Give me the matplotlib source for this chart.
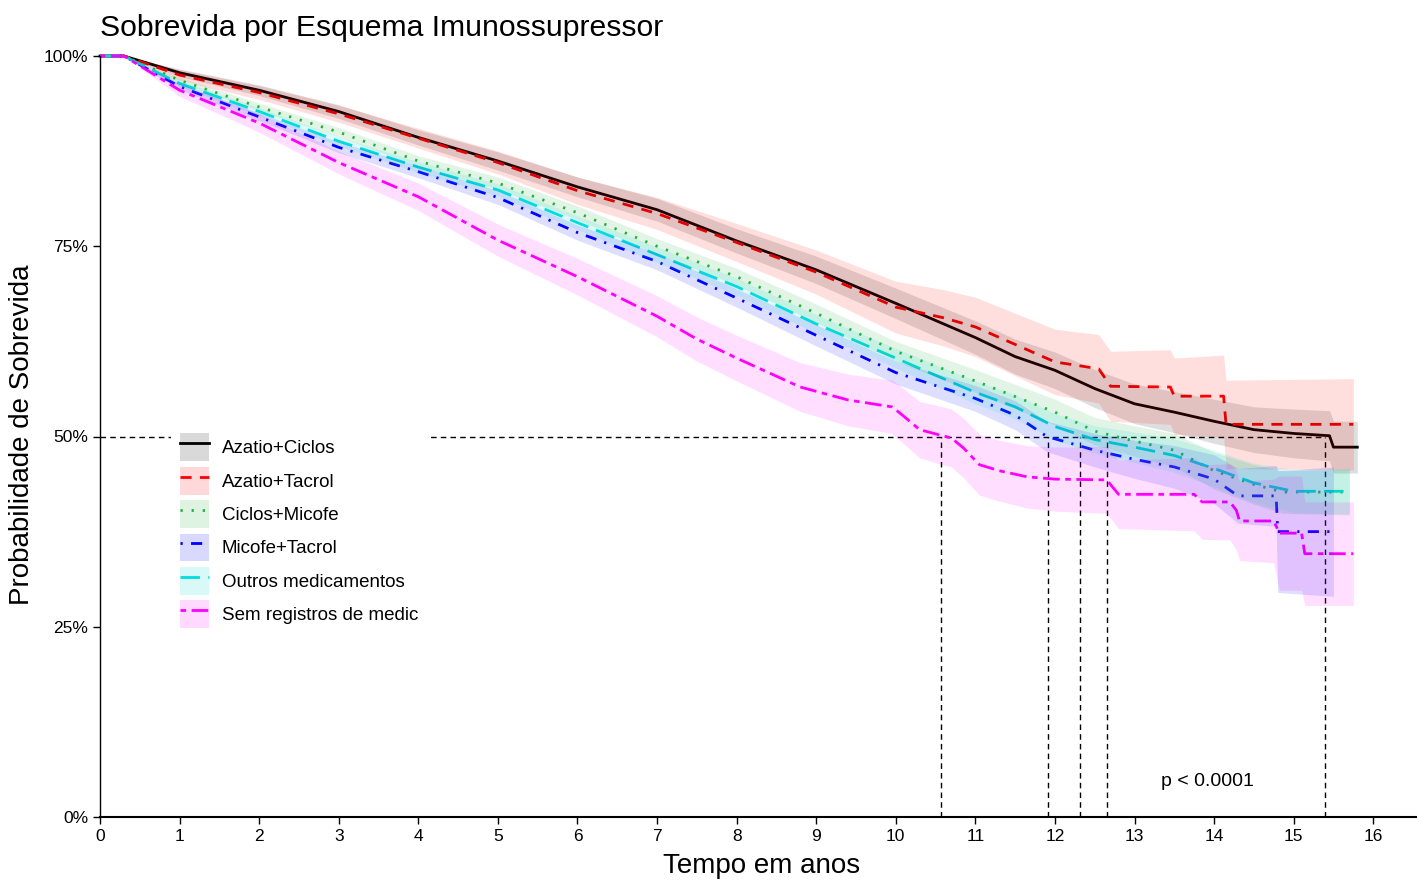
import matplotlib
matplotlib.use("Agg")
import matplotlib.pyplot as plt
from matplotlib.patches import Patch
from matplotlib.lines import Line2D

plt.rcParams["font.family"] = ["Liberation Sans", "DejaVu Sans"]

# Kaplan-Meier estimates (time in years, survival in %)
groups = ["Azatio+Ciclos", "Azatio+Tacrol", "Ciclos+Micofe",
          "Micofe+Tacrol", "Outros medicamentos", "Sem registros de medic"]

t_black = [0, 0.3, 1, 2, 3, 4, 5, 6, 7, 8, 9, 10, 11, 11.5, 12, 12.5, 13, 13.5, 14, 14.5, 15, 15.45, 15.5, 15.8]
s_black = [100, 100, 97.8, 95.5, 92.7, 89.3, 86.2, 82.8, 79.8, 75.7, 71.9, 67.5, 63.0, 60.5, 58.7, 56.3, 54.3, 53.2, 52.0, 50.9, 50.4, 50.1, 48.6, 48.6]
ci_black = [0, 0, 0.5, 0.7, 0.9, 1.0, 1.2, 1.3, 1.5, 1.6, 1.8, 2.0, 2.2, 2.3, 2.4, 2.5, 2.6, 2.7, 2.9, 3.0, 3.2, 3.3, 3.4, 3.4]

t_red = [0, 0.3, 1, 2, 3, 4, 5, 6, 7, 8, 9, 10, 10.6, 11, 11.5, 12, 12.55, 12.7, 13.45, 13.5, 14.12, 14.15, 15.75]
s_red = [100, 100, 97.5, 95.2, 92.4, 89.2, 86.0, 82.3, 79.3, 75.5, 71.6, 67.0, 65.6, 64.4, 62.1, 59.8, 58.9, 56.6, 56.5, 55.3, 55.3, 51.6, 51.6]
ci_red = [0, 0, 0.7, 0.9, 1.1, 1.3, 1.5, 1.8, 2.1, 2.5, 2.9, 3.4, 3.7, 3.9, 4.1, 4.3, 4.5, 4.6, 4.9, 5.0, 5.4, 5.8, 6.0]

t_green = [0, 0.3, 1, 2, 3, 4, 5, 6, 7, 8, 9, 10, 11, 12, 12.5, 13, 13.5, 14, 14.5, 14.86, 15.7]
s_green = [100, 100, 96.8, 93.3, 90.0, 86.2, 83.3, 79.4, 75.0, 71.0, 66.2, 61.2, 57.3, 53.2, 50.7, 49.4, 48.2, 45.5, 43.7, 42.7, 42.7]
ci_green = [0, 0, 0.4, 0.5, 0.6, 0.7, 0.8, 0.9, 1.0, 1.1, 1.2, 1.3, 1.5, 1.7, 1.8, 2.0, 2.2, 2.4, 2.6, 2.8, 3.0]

t_blue = [0, 0.3, 1, 2, 3, 4, 5, 6, 7, 8, 9, 10, 11, 11.5, 11.9, 12.5, 13, 13.5, 14, 14.3, 14.78, 14.8, 15.5]
s_blue = [100, 100, 96.0, 92.0, 88.0, 84.8, 81.4, 76.8, 73.0, 68.2, 63.3, 58.4, 55.0, 52.8, 50.0, 48.2, 47.0, 46.0, 44.4, 42.2, 42.2, 37.5, 37.5]
ci_blue = [0, 0, 0.4, 0.5, 0.7, 0.8, 0.9, 1.0, 1.1, 1.2, 1.4, 1.5, 1.7, 1.9, 2.0, 2.2, 2.5, 2.8, 3.2, 3.6, 4.0, 8.0, 8.5]

t_cyan = [0, 0.3, 1, 2, 3, 4, 5, 6, 7, 8, 9, 10, 11, 11.5, 12, 12.5, 13, 13.5, 14, 14.5, 15, 15.7]
s_cyan = [100, 100, 96.4, 92.7, 88.8, 85.4, 82.4, 78.1, 73.9, 69.7, 64.8, 60.3, 55.8, 53.9, 51.3, 49.6, 48.6, 47.5, 45.8, 43.9, 42.8, 42.8]
ci_cyan = [0, 0, 0.4, 0.5, 0.6, 0.7, 0.8, 0.9, 1.0, 1.1, 1.2, 1.3, 1.5, 1.6, 1.7, 1.8, 2.0, 2.2, 2.4, 2.6, 2.8, 3.0]

t_mag = [0, 0.3, 1, 2, 3, 4, 5, 6, 7, 7.5, 8, 8.8, 9.4, 9.95, 10.05, 10.3, 10.55, 10.7, 10.85, 11.05,
         11.3, 11.65, 12.0, 12.65, 12.8, 13.75, 13.85, 14.2, 14.28, 14.32, 14.75, 14.82, 15.1, 15.14, 15.75]
s_mag = [100, 100, 95.5, 91.2, 86.0, 81.5, 75.8, 71.0, 65.8, 62.8, 60.3, 56.5, 54.8, 53.9, 53.1, 50.9, 50.2, 49.8, 48.5, 46.3,
         45.5, 44.7, 44.4, 44.3, 42.4, 42.4, 41.4, 41.4, 40.3, 38.9, 38.9, 37.3, 37.3, 34.6, 34.6]
ci_mag = [0, 0, 0.8, 1.2, 1.5, 1.8, 2.1, 2.4, 2.7, 2.9, 3.0, 3.2, 3.4, 3.5, 3.6, 3.7, 3.8, 3.8, 3.9, 4.0,
          4.0, 4.1, 4.2, 4.4, 4.5, 4.8, 4.9, 5.0, 5.2, 5.2, 5.5, 7.5, 7.5, 6.8, 6.8]

# median survival times (vertical reference lines)
medians = [10.57, 11.91, 12.32, 12.66, 15.40]

series = [(t_black, s_black, ci_black), (t_red, s_red, ci_red), (t_green, s_green, ci_green),
          (t_blue, s_blue, ci_blue), (t_cyan, s_cyan, ci_cyan), (t_mag, s_mag, ci_mag)]
colors = ["black", "#FF0000", "#22B03A", "#0000FF", "#00DDDD", "#FF00FF"]
styles = ["-", (0, (4, 3)), (0, (0.8, 3.2)), (0, (0.8, 3, 4, 3)), (0, (7, 3)), (0, (2, 2, 6, 2))]

fig = plt.figure(figsize=(14.17, 8.81), dpi=100)
ax = fig.add_axes([100 / 1417, 1 - 817 / 881, 1 - 100 / 1417, (817 - 56) / 881])

for (t, s, ci), c, ls in zip(series, colors, styles):
    ax.plot(t, s, color=c, linestyle=ls, lw=2, zorder=2, clip_on=False)
    lo = [v - d for v, d in zip(s, ci)]
    hi = [v + d for v, d in zip(s, ci)]
    ax.fill_between(t, lo, hi, color=c, alpha=0.13, lw=0, zorder=3)

# median reference lines
ax.plot([0, max(medians)], [50, 50], color="black", ls=(0, (4, 3)), lw=1, zorder=1)
for m in medians:
    ax.plot([m, m], [0, 50], color="black", ls=(0, (4, 3)), lw=1, zorder=1)

ax.set_xlim(0, 16.55)
ax.set_ylim(0, 100)
ax.set_xticks(range(0, 17))
ax.set_yticks([0, 25, 50, 75, 100])
ax.set_yticklabels(["0%", "25%", "50%", "75%", "100%"])
ax.tick_params(labelsize=12.5, length=5, width=1, colors="black")
ax.spines["top"].set_visible(False)
ax.spines["right"].set_visible(False)
ax.spines["left"].set_linewidth(1)
ax.spines["bottom"].set_linewidth(1.5)

ax.text(13.92, 4.7, "p < 0.0001", fontsize=14, ha="center", va="center")

handles = []
for c, ls in zip(colors, styles):
    handles.append((Patch(facecolor=c, alpha=0.15, lw=0), Line2D([], [], color=c, ls=ls, lw=2)))
leg = ax.legend(handles, groups, loc="upper left", bbox_to_anchor=(71 / 1317, (817 - 424) / 761),
                borderaxespad=0, frameon=True, fontsize=13.5, handlelength=1.5, handleheight=1.9,
                labelspacing=0.3, handletextpad=0.7, borderpad=0.5)
leg.get_frame().set_facecolor("white")
leg.get_frame().set_edgecolor("none")
leg.get_frame().set_alpha(1)
leg.set_zorder(5)

fig.text(100 / 1417, 1 - 28 / 881, "Sobrevida por Esquema Imunossupressor", fontsize=21.7, ha="left", va="center")
fig.text(22 / 1417, 1 - 435 / 881, "Probabilidade de Sobrevida", fontsize=20, rotation=90, ha="center", va="center")
fig.text(762 / 1417, 1 - 866 / 881, "Tempo em anos", fontsize=20, ha="center", va="center")

fig.savefig("out.png", dpi=100)
